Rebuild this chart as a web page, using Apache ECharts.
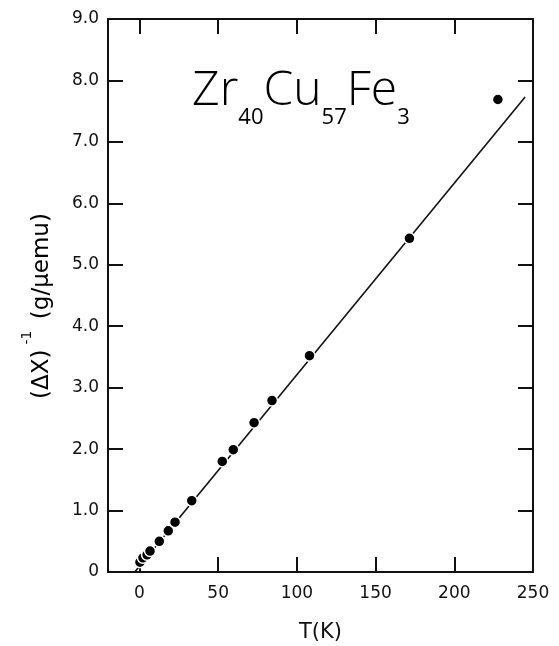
<!DOCTYPE html>
<html>
<head>
<meta charset="utf-8">
<script src="https://cdn.jsdelivr.net/npm/echarts@6/dist/echarts.min.js"></script>
<style>
html,body{margin:0;padding:0;background:#fff;}
#chart{width:559px;height:646px;}
</style>
</head>
<body>
<div id="chart"></div>
<script>
// Data
const tempK = [0.3, 2.2, 4.8, 6.7, 12.6, 18.3, 22.6, 33.2, 52.6, 59.6, 72.8, 84.2, 108, 171.5, 227.7];
const invChi = [0.16, 0.23, 0.28, 0.34, 0.50, 0.67, 0.81, 1.16, 1.80, 1.99, 2.43, 2.79, 3.52, 5.43, 7.69];
const fitT = [-3, 245];
const fitY = [0, 7.73];
const xTicks = [0, 50, 100, 150, 200, 250];
const yTicks = [0, 1, 2, 3, 4, 5, 6, 7, 8, 9];

const FONT = 'DejaVu Sans';
const INK = '#111';

const chart = echarts.init(document.getElementById('chart'), null, {renderer: 'canvas'});

const tickStyle = {show: true, inside: true, length: 15, lineStyle: {color: INK, width: 2}};
const lineStyle = {show: true, onZero: false, lineStyle: {color: INK, width: 2}};

chart.setOption({
  backgroundColor: '#fff',
  animation: false,
  grid: {left: 108, right: 26, top: 19, bottom: 74, containLabel: false, outerBoundsMode: 'none'},
  title: {
    text: '{m|Zr}{s|40}{m|Cu}{s|57}{m|Fe}{s|3}',
    left: 187, top: 62,
    textStyle: {
      rich: {
        m: {fontFamily: 'Open Sans', fontWeight: 300, fontSize: 48, color: '#000', verticalAlign: 'bottom', padding: [0, 0, 14, 0]},
        s: {fontFamily: 'Open Sans', fontWeight: 400, fontSize: 22, color: '#000', verticalAlign: 'bottom'}
      }
    }
  },
  xAxis: [{
    type: 'value', position: 'bottom', min: -20, max: 250,
    name: 'T(K)', nameLocation: 'middle', nameGap: 50,
    nameTextStyle: {fontFamily: FONT, fontSize: 21, color: INK},
    axisLine: lineStyle,
    axisTick: Object.assign({}, tickStyle, {customValues: xTicks}),
    axisLabel: {customValues: xTicks, margin: 13, fontFamily: FONT, fontSize: 17, color: INK},
    splitLine: {show: false}
  }, {
    type: 'value', position: 'top', min: -20, max: 250,
    axisLine: lineStyle,
    axisTick: Object.assign({}, tickStyle, {customValues: xTicks}),
    axisLabel: {show: false},
    splitLine: {show: false}
  }],
  yAxis: [{
    type: 'value', position: 'left', min: 0, max: 9, interval: 1,
    axisLine: lineStyle,
    axisTick: tickStyle,
    axisLabel: {
      margin: 9, fontFamily: FONT, fontSize: 17, color: INK,
      formatter: v => v === 0 ? '0' : v.toFixed(1)
    },
    splitLine: {show: false}
  }, {
    type: 'value', position: 'right', min: 0, max: 9, interval: 1,
    axisLine: lineStyle,
    axisTick: tickStyle,
    axisLabel: {show: false},
    splitLine: {show: false}
  }],
  graphic: [{
    type: 'text',
    x: 37, y: 306,
    rotation: Math.PI / 2,
    style: {
      text: '{m|(ΔX)}{p|-1}{m| (g/μemu)}',
      align: 'center', verticalAlign: 'middle',
      rich: {
        m: {fontFamily: FONT, fontSize: 23, color: INK, verticalAlign: 'bottom'},
        p: {fontFamily: FONT, fontSize: 14, color: INK, verticalAlign: 'bottom', padding: [0, 4, 20, 5]}
      }
    }
  }],
  series: [{
    type: 'line',
    data: fitT.map((t, i) => [t, fitY[i]]),
    showSymbol: false,
    lineStyle: {color: INK, width: 1.6},
    z: 2
  }, {
    type: 'scatter',
    data: tempK.map((t, i) => [t, invChi[i]]),
    symbol: 'circle',
    symbolSize: 11,
    itemStyle: {color: '#000', borderColor: '#fff', borderWidth: 1.5, opacity: 1},
    z: 3
  }]
});
</script>
</body>
</html>
